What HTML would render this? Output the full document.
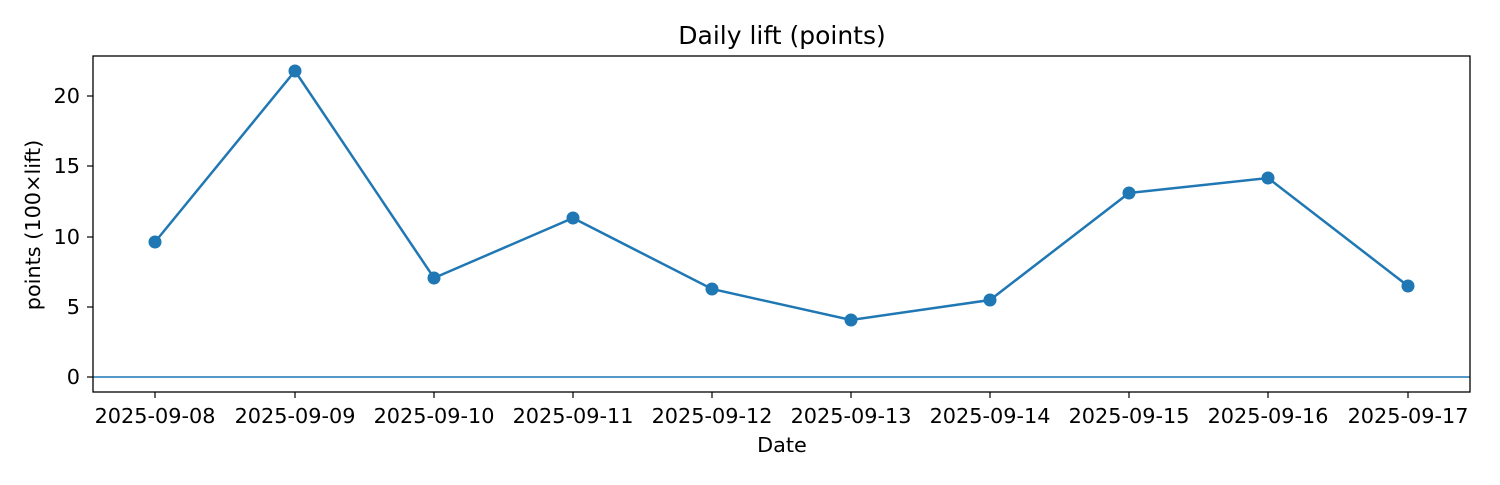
<!DOCTYPE html>
<html><head><meta charset="utf-8"><style>body{margin:0;background:#fff}</style></head><body>
<svg width="1500" height="480" xmlns="http://www.w3.org/2000/svg" font-family="DejaVu Sans, sans-serif">
<rect width="1500" height="480" fill="#fff"/>
<text x="782" y="44" font-size="25" text-anchor="middle" fill="#000">Daily lift (points)</text>
<line x1="93" y1="377" x2="1470" y2="377" stroke="#1f77b4" stroke-width="1.5"/>
<polyline fill="none" stroke="#1f77b4" stroke-width="2.5" points="155,242 295,71 434,278 573,218 712,289 851,320 990,300 1129,193 1268,178 1408,286"/>
<g fill="#1f77b4">
<circle cx="155" cy="242" r="6.5"/><circle cx="295" cy="71" r="6.5"/><circle cx="434" cy="278" r="6.5"/><circle cx="573" cy="218" r="6.5"/><circle cx="712" cy="289" r="6.5"/><circle cx="851" cy="320" r="6.5"/><circle cx="990" cy="300" r="6.5"/><circle cx="1129" cy="193" r="6.5"/><circle cx="1268" cy="178" r="6.5"/><circle cx="1408" cy="286" r="6.5"/>
</g>
<rect x="93" y="56" width="1377" height="336" fill="none" stroke="#000" stroke-width="1.3"/>
<g stroke="#000" stroke-width="1.2">
<line x1="87" y1="377" x2="93" y2="377"/><line x1="87" y1="307" x2="93" y2="307"/><line x1="87" y1="237" x2="93" y2="237"/><line x1="87" y1="166" x2="93" y2="166"/><line x1="87" y1="96" x2="93" y2="96"/>
<line x1="155" y1="392" x2="155" y2="398"/><line x1="295" y1="392" x2="295" y2="398"/><line x1="434" y1="392" x2="434" y2="398"/><line x1="573" y1="392" x2="573" y2="398"/><line x1="712" y1="392" x2="712" y2="398"/><line x1="851" y1="392" x2="851" y2="398"/><line x1="990" y1="392" x2="990" y2="398"/><line x1="1129" y1="392" x2="1129" y2="398"/><line x1="1268" y1="392" x2="1268" y2="398"/><line x1="1408" y1="392" x2="1408" y2="398"/>
</g>
<g font-size="20.8" text-anchor="end" fill="#000">
<text x="80" y="384">0</text><text x="80" y="314">5</text><text x="80" y="244">10</text><text x="80" y="173">15</text><text x="80" y="103">20</text>
</g>
<g font-size="20.8" text-anchor="middle" fill="#000">
<text x="155" y="423">2025-09-08</text><text x="295" y="423">2025-09-09</text><text x="434" y="423">2025-09-10</text><text x="573" y="423">2025-09-11</text><text x="712" y="423">2025-09-12</text><text x="851" y="423">2025-09-13</text><text x="990" y="423">2025-09-14</text><text x="1129" y="423">2025-09-15</text><text x="1268" y="423">2025-09-16</text><text x="1408" y="423">2025-09-17</text>
<text x="782" y="452">Date</text>
<text transform="translate(40,225) rotate(-90)">points (100×lift)</text>
</g>
</svg>
</body></html>
